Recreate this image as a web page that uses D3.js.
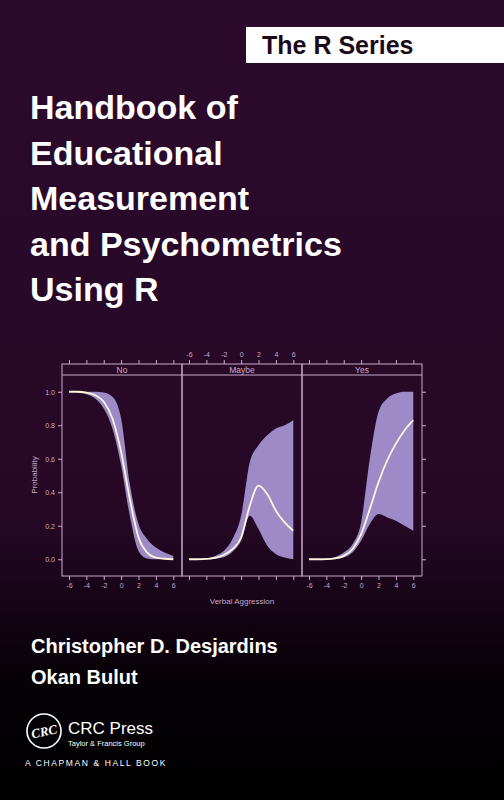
<!DOCTYPE html>
<html><head><meta charset="utf-8">
<script src="https://cdn.jsdelivr.net/npm/d3@7"></script>
<style>body{margin:0;background:#000}svg{display:block}</style>
</head><body><svg id="c" width="504" height="800"></svg>
<script>
var xs = [-6,-5,-4,-3,-2,-1,0,1,2,3,4,5,6];
var panels = ["No","Maybe","Yes"];
var meanNo    = [1.0,1.0,0.995,0.98,0.94,0.84,0.64,0.36,0.13,0.04,0.01,0.003,0.0];
var lowerNo   = [1.0,0.995,0.985,0.96,0.9,0.78,0.56,0.26,0.05,0.005,0,0,0];
var upperNo   = [1,1,1,1,0.995,0.97,0.84,0.45,0.21,0.12,0.07,0.04,0.02];
var meanMaybe = [0,0,0.002,0.008,0.025,0.06,0.13,0.32,0.44,0.39,0.29,0.22,0.17];
var lowerMaybe= [0,0,0,0.003,0.012,0.045,0.11,0.26,0.18,0.08,0.03,0.01,0.0];
var upperMaybe= [0,0.002,0.006,0.02,0.05,0.12,0.26,0.58,0.68,0.74,0.78,0.8,0.83];
var meanYes   = [0,0,0.001,0.005,0.02,0.06,0.15,0.3,0.46,0.59,0.69,0.77,0.83];
var lowerYes  = [0,0,0,0.002,0.01,0.04,0.11,0.21,0.27,0.25,0.23,0.2,0.17];
var upperYes  = [0,0,0.003,0.012,0.04,0.09,0.22,0.6,0.88,0.96,0.99,1.0,1.0];
var xTicks = [-6,-4,-2,0,2,4,6];
var yTicks = [0,0.2,0.4,0.6,0.8,1.0];
var series = [
  {name:"No", mean:meanNo, lower:lowerNo, upper:upperNo},
  {name:"Maybe", mean:meanMaybe, lower:lowerMaybe, upper:upperMaybe},
  {name:"Yes", mean:meanYes, lower:lowerYes, upper:upperYes}
];

var svg = d3.select("#c");
var defs = svg.append("defs");
var g = defs.append("linearGradient").attr("id","bg").attr("x1",0).attr("y1",0).attr("x2",0).attr("y2",1);
g.append("stop").attr("offset","0%").attr("stop-color","#2c0a2c");
g.append("stop").attr("offset","65%").attr("stop-color","#260826");
g.append("stop").attr("offset","85%").attr("stop-color","#060106");
g.append("stop").attr("offset","100%").attr("stop-color","#000");
svg.append("rect").attr("width",504).attr("height",800).attr("fill","url(#bg)");

// series box
svg.append("rect").attr("x",246).attr("y",27).attr("width",258).attr("height",36).attr("fill","#fff");
svg.append("text").attr("x",262).attr("y",54).attr("font-family","Liberation Sans, Arial").attr("font-weight","bold")
  .attr("font-size",25).attr("fill","#1a0a1a").text("The R Series");

var title = ["Handbook of","Educational","Measurement","and Psychometrics","Using R"];
svg.selectAll("text.title").data(title).enter().append("text").attr("class","title")
  .attr("x",30).attr("y",function(d,i){return 119+i*45.5;})
  .attr("font-family","Liberation Sans, Arial").attr("font-weight","bold").attr("font-size",34)
  .attr("fill","#fff").text(function(d){return d;});

// chart
var ax = "#c9a9c9", pTop = 375, pBottom = 576, pw = 120, left0 = 62, stripTop = 364;
var y = d3.scaleLinear().domain([-0.1,1.1]).range([pBottom,pTop]);
var fmt = function(d){return String(d);};
function styleAxis(a){
  a.select(".domain").remove();
  a.selectAll("line").attr("stroke",ax);
  a.selectAll("text").attr("fill",ax).attr("font-size",7).attr("font-family","Liberation Sans, Arial");
}
panels.forEach(function(p,i){
  var l = left0 + i*pw;
  var x = d3.scaleLinear().domain([-6.8,7.0]).range([l,l+pw]);
  var s = series[i];
  var pts = xs.map(function(v,j){return {x:v,m:s.mean[j],lo:s.lower[j],hi:s.upper[j]};});
  svg.append("path").datum(pts).attr("fill","#9d8ac6")
    .attr("d",d3.area().curve(d3.curveMonotoneX).x(function(d){return x(d.x);}).y0(function(d){return y(d.lo);}).y1(function(d){return y(d.hi);}));
  svg.append("path").datum(pts).attr("fill","none").attr("stroke","#fff6dc").attr("stroke-width",1.8)
    .attr("d",d3.line().curve(d3.curveMonotoneX).x(function(d){return x(d.x);}).y(function(d){return y(d.m);}));
  svg.append("rect").attr("x",l).attr("y",stripTop).attr("width",pw).attr("height",pBottom-stripTop)
    .attr("fill","none").attr("stroke",ax).attr("stroke-width",1);
  svg.append("line").attr("x1",l).attr("x2",l+pw).attr("y1",pTop).attr("y2",pTop).attr("stroke",ax);
  svg.append("text").attr("x",l+pw/2).attr("y",372.5).attr("text-anchor","middle").attr("font-family","Liberation Sans, Arial")
    .attr("font-size",8.5).attr("fill",ax).text(p);
  var bot = svg.append("g").attr("transform","translate(0,"+pBottom+")")
    .call(d3.axisBottom(x).tickValues(xTicks).tickSize(4).tickFormat(i==1?"":fmt));
  var tp = svg.append("g").attr("transform","translate(0,"+stripTop+")")
    .call(d3.axisTop(x).tickValues(xTicks).tickSize(4).tickFormat(i==1?fmt:""));
  styleAxis(bot); styleAxis(tp);
});
var la = svg.append("g").attr("transform","translate("+left0+",0)")
  .call(d3.axisLeft(y).tickValues(yTicks).tickSize(4).tickFormat(d3.format(".1f")));
var ra = svg.append("g").attr("transform","translate("+(left0+3*pw)+",0)")
  .call(d3.axisRight(y).tickValues(yTicks).tickSize(4).tickFormat(""));
styleAxis(la); styleAxis(ra);
svg.append("text").attr("transform","translate(37,475) rotate(-90)").attr("text-anchor","middle")
  .attr("font-family","Liberation Sans, Arial").attr("font-size",8).attr("fill",ax).text("Probability");
svg.append("text").attr("x",242).attr("y",604).attr("text-anchor","middle")
  .attr("font-family","Liberation Sans, Arial").attr("font-size",8).attr("fill",ax).text("Verbal Aggression");

// authors
svg.append("text").attr("x",31).attr("y",653).attr("font-family","Liberation Sans, Arial").attr("font-weight","bold")
  .attr("font-size",20).attr("fill","#fff").text("Christopher D. Desjardins");
svg.append("text").attr("x",31).attr("y",684).attr("font-family","Liberation Sans, Arial").attr("font-weight","bold")
  .attr("font-size",20).attr("fill","#fff").text("Okan Bulut");

// publisher
svg.append("circle").attr("cx",44).attr("cy",731).attr("r",17).attr("fill","none").attr("stroke","#fff").attr("stroke-width",1.6);
svg.append("text").attr("x",44).attr("y",736).attr("text-anchor","middle").attr("font-family","Liberation Serif, serif")
  .attr("font-weight","bold").attr("font-style","italic").attr("font-size",13).attr("fill","#fff")
  .attr("transform","rotate(-12,44,731)").text("CRC");
svg.append("text").attr("x",68).attr("y",734).attr("font-family","Liberation Sans, Arial").attr("font-size",17).attr("fill","#fff").text("CRC Press");
svg.append("text").attr("x",68).attr("y",746).attr("font-family","Liberation Sans, Arial").attr("font-size",7.5).attr("fill","#fff").text("Taylor & Francis Group");
svg.append("text").attr("x",25).attr("y",766).attr("font-family","Liberation Sans, Arial").attr("font-size",8.5)
  .attr("letter-spacing",1.6).attr("fill","#fff").text("A CHAPMAN & HALL BOOK");
</script></body></html>
